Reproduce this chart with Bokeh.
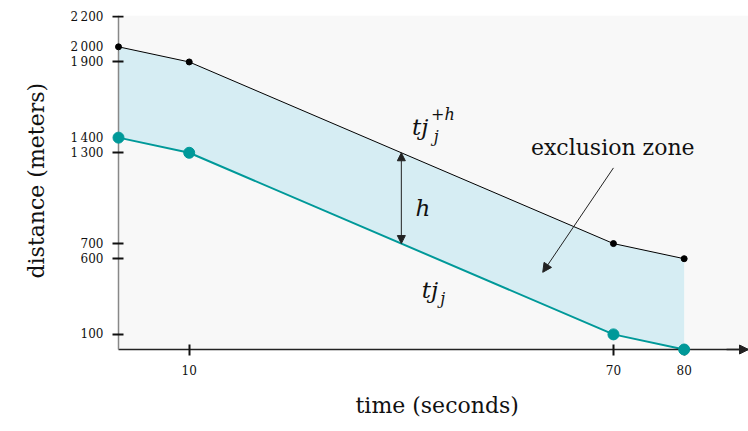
from bokeh.plotting import figure
from bokeh.models import (Range1d, FixedTicker, Label, Arrow, NormalHead, BoxAnnotation,
                          LinearAxis, Title)
from bokeh.embed import file_html
from bokeh.resources import INLINE
import numpy as np

# ---- data ----
time_s = [0, 10, 70, 80]
tj_lower = [1400, 1300, 100, 0]      # tj_j
tj_upper = [2000, 1900, 700, 600]    # tj_j^{+h}
x_ticks = [10, 70, 80]
y_ticks = [100, 600, 700, 1300, 1400, 1900, 2000, 2200]
y_tick_marks = [100, 600, 700, 1300, 1900, 2200]
y_tick_labels = {2200: "2\u2009200", 2000: "2\u2009000", 1900: "1\u2009900",
                 1400: "1\u2009400", 1300: "1\u2009300"}
x_title = "time (seconds)"
y_title = "distance (meters)"
h_time = 40
zone_arrow_from = (70, 1200)
zone_arrow_to = (60, 510)

X_MAX, Y_MAX = 89.1, 2207
SERIF = "DejaVu Serif"
TEAL = "#009999"
FILL = "#d6edf3"
INK = "#111111"

p = figure(width=748, height=431,
           x_range=Range1d(-10 / 7.07, X_MAX), y_range=Range1d(-66, Y_MAX),
           output_backend="svg", toolbar_location=None,
           min_border_left=108, min_border_right=0, min_border_top=15, min_border_bottom=72,
           background_fill_color="white", border_fill_color="white",
           outline_line_color=None)
p.grid.visible = False

# plot-area background (only the positive quadrant)
p.add_layout(BoxAnnotation(left=0, bottom=0, fill_color="#f8f8f8", fill_alpha=1,
                           line_color=None, level="underlay"))

p.varea(x=time_s, y1=tj_lower, y2=tj_upper, fill_color=FILL)
p.line(time_s, tj_upper, line_color="black", line_width=1)
p.line(time_s, tj_lower, line_color=TEAL, line_width=2)
p.scatter(time_s, tj_upper, size=6, color="black", level="overlay")
p.scatter(time_s, tj_lower, size=11, color=TEAL, level="overlay")

# label axes (at frame edges): tick labels only
xlab = p.xaxis[0]
ylab = p.yaxis[0]
xlab.ticker = FixedTicker(ticks=x_ticks)
ylab.ticker = FixedTicker(ticks=y_ticks)
ylab.major_label_overrides = y_tick_labels
for ax in (xlab, ylab):
    ax.axis_line_color = None
    ax.major_tick_line_color = None
    ax.minor_tick_line_color = None
    ax.major_tick_in = 0
    ax.major_tick_out = 0
    ax.major_label_text_font = SERIF
    ax.major_label_text_font_size = "12px"
    ax.major_label_text_color = INK
xlab.major_label_standoff = 5
ylab.major_label_standoff = 5

# axis lines + ticks through the origin
xrule = LinearAxis(ticker=FixedTicker(ticks=x_ticks), fixed_location=0, bounds=(0, X_MAX),
                   major_label_overrides={t: "" for t in x_ticks})
yrule = LinearAxis(ticker=FixedTicker(ticks=y_tick_marks), fixed_location=0, bounds=(0, Y_MAX),
                   major_label_overrides={t: "" for t in y_tick_marks})
for ax in (xrule, yrule):
    ax.major_tick_line_width = 2
    ax.major_tick_line_color = INK
    ax.minor_tick_line_color = None
    ax.major_label_standoff = 0
    ax.major_label_text_font_size = "1px"
    ax.axis_line_width = 1.5
    ax.major_tick_in = 5
    ax.major_tick_out = 6
xrule.axis_line_color = "#222222"
yrule.axis_line_color = "#888888"
p.add_layout(xrule, "below")
p.add_layout(yrule, "left")

# axis titles
p.add_layout(Title(text=x_title, align="left", offset=247, standoff=27,
                   text_font=SERIF, text_font_size="22px", text_font_style="normal",
                   text_color=INK), "below")
p.add_layout(Title(text=y_title, align="left", offset=81, standoff=37,
                   text_font=SERIF, text_font_size="22px", text_font_style="normal",
                   text_color=INK), "left")

# x-axis arrow head
p.add_layout(Arrow(end=NormalHead(size=9, fill_color="#222222", line_color="#222222"),
                   x_start=86, y_start=0, x_end=X_MAX, y_end=0,
                   line_color="#222222", line_width=1.5))

# h arrow
h_lo = float(np.interp(h_time, time_s, tj_lower))
h_hi = float(np.interp(h_time, time_s, tj_upper))
p.add_layout(Arrow(start=NormalHead(size=8, fill_color="#222222", line_color="#222222"),
                   end=NormalHead(size=8, fill_color="#222222", line_color="#222222"),
                   x_start=h_time, y_start=h_lo, x_end=h_time, y_end=h_hi,
                   line_color="#222222", line_width=1))

# exclusion zone arrow
p.add_layout(Arrow(end=NormalHead(size=9, fill_color="#222222", line_color="#222222"),
                   x_start=zone_arrow_from[0], y_start=zone_arrow_from[1],
                   x_end=zone_arrow_to[0], y_end=zone_arrow_to[1],
                   line_color="#222222", line_width=1))

def lab(x, y, text, size, style="italic", align="left"):
    p.add_layout(Label(x=x, y=y, text=text, text_font=SERIF, text_font_size=size,
                       text_font_style=style, text_align=align,
                       text_baseline="alphabetic", text_color=INK))

# upper trajectory label tj_j^{+h}
lab(41.5, 1469, "tj", "23px")
lab(44.2, 1550, "+h", "16px")
lab(44.6, 1405, "j", "16px")
# lower trajectory label tj_j
lab(42.9, 390, "tj", "23px")
lab(45.5, 340, "j", "16px")
# h
lab(42.0, 933, "h", "23px")
# exclusion zone
lab(69.9, 1337, "exclusion zone", "22px", style="normal", align="center")

open("out.html", "w").write(file_html(p, INLINE))
